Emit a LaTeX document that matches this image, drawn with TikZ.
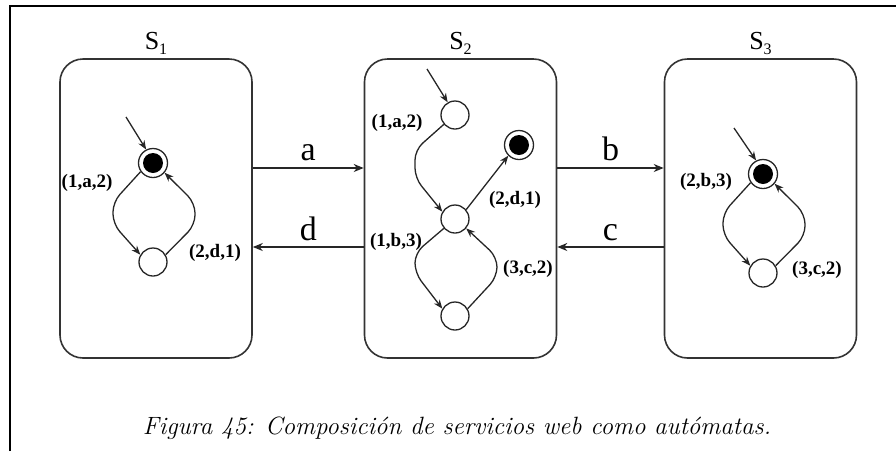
\documentclass[tikz,border=0pt]{standalone}
\usepackage{fontspec}
\newfontfamily\tms{Liberation Serif}
\usetikzlibrary{arrows.meta}
\begin{document}
\begin{tikzpicture}[x=0.5pt,y=-0.5pt,
  box/.style={draw=black!80, line width=0.8pt, rounded corners=11.5pt, minimum width=96pt, minimum height=149.5pt, inner sep=0pt},
  st/.style={circle, draw=black!85, line width=0.65pt, minimum size=14pt, inner sep=0pt, fill=white},
  acc/.style={circle, draw=black!85, line width=0.65pt, minimum size=14.5pt, inner sep=0pt, fill=white,
    path picture={\fill[black] (path picture bounding box.center) circle (5pt);}},
  tr/.style={draw=black!85, line width=0.65pt, -{Stealth[length=4.5pt,width=3.5pt]}, rounded corners=5pt},
  lab/.style={font=\tms\bfseries\fontsize{9.5}{11}\selectfont, inner sep=0pt},
  big/.style={font=\tms\fontsize{17}{20}\selectfont, inner sep=0pt},
  slab/.style={font=\tms\fontsize{13}{15}\selectfont, inner sep=0pt, anchor=base},
  ch/.style={draw=black!85, line width=0.8pt, -{Stealth[length=5pt,width=4pt]}}
]
\useasboundingbox (0,0) rectangle (896,451);
% frame
\draw[line width=1.2pt] (10,451) -- (10,6) -- (896,6);

% boxes
\node[box] (S1) at (156,208.5) {};
\node[box] (S2) at (460.5,208.5) {};
\node[box] (S3) at (760.5,208.5) {};
\node[slab] (L1) at ([yshift=4.5pt]S1.north) {S\raisebox{-0.45ex}{\fontsize{8}{9}\selectfont 1}};
\node[slab] (L2) at ([yshift=4.5pt]S2.north) {S\raisebox{-0.45ex}{\fontsize{8}{9}\selectfont 2}};
\node[slab] (L3) at ([yshift=4.5pt]S3.north) {S\raisebox{-0.45ex}{\fontsize{8}{9}\selectfont 3}};

% channels
\coordinate (ya) at (0,168);
\coordinate (yd) at (0,247);
\draw[ch] (S1.east |- ya) -- node[big, anchor=base, yshift=4pt] (la) {a} (S2.west |- ya);
\draw[ch] (S2.west |- yd) -- node[big, anchor=base, yshift=3.5pt] (ld) {d} (S1.east |- yd);
\draw[ch] (S2.east |- ya) -- node[big, anchor=base, yshift=4pt] (lb) {b} (S3.west |- ya);
\draw[ch] (S3.west |- yd) -- node[big, anchor=base, yshift=3.5pt] (lc) {c} (S2.east |- yd);

% S1 automaton
\node[acc] (p1) at (153,163) {};
\node[st] (q1) at (153,262) {};
\coordinate (i1) at (126,117);
\draw[tr] (i1) -- (p1.117);
\draw[tr] (p1.-145) -- (113,202) -- (113,224) -- (q1.150);
\draw[tr] (q1.30) -- (195,225) -- (195,203) -- (p1.-40);
\node[lab] (t11) at (87,183) {(1,a,2)};
\node[lab] (t12) at (215,253) {(2,d,1)};

% S2 automaton
\node[st] (p2) at (455,115) {};
\node[acc] (f2) at (519,145) {};
\node[st] (m2) at (455,219) {};
\node[st] (q2) at (455,316) {};
\coordinate (i2) at (427,69);
\draw[tr] (i2) -- (p2.120);
\draw[tr] (p2.-140) -- (415,150) -- (415,178) -- (m2.150);
\draw[tr] (m2.40) -- (f2.-135);
\draw[tr] (m2.-140) -- (415,253) -- (415,273) -- (q2.150);
\draw[tr] (q2.30) -- (497,277) -- (497,257) -- (m2.-40);
\node[lab] (t21) at (397,123) {(1,a,2)};
\node[lab] (t22) at (515,200) {(2,d,1)};
\node[lab] (t23) at (396,242) {(1,b,3)};
\node[lab] (t24) at (528,269) {(3,c,2)};

% S3 automaton
\node[acc] (p3) at (763,174) {};
\node[st] (q3) at (763,273) {};
\coordinate (i3) at (734,128);
\draw[tr] (i3) -- (p3.117);
\draw[tr] (p3.-145) -- (723,213) -- (723,235) -- (q3.150);
\draw[tr] (q3.30) -- (805,236) -- (805,214) -- (p3.-40);
\node[lab] (t31) at (706,182) {(2,b,3)};
\node[lab] (t32) at (817,270) {(3,c,2)};

% caption
\node[font=\itshape\fontsize{12.5}{15}\selectfont, inner sep=0pt] (cap) at (457,428) {Figura 45: Composición de servicios web como autómatas.};
\end{tikzpicture}
\end{document}
